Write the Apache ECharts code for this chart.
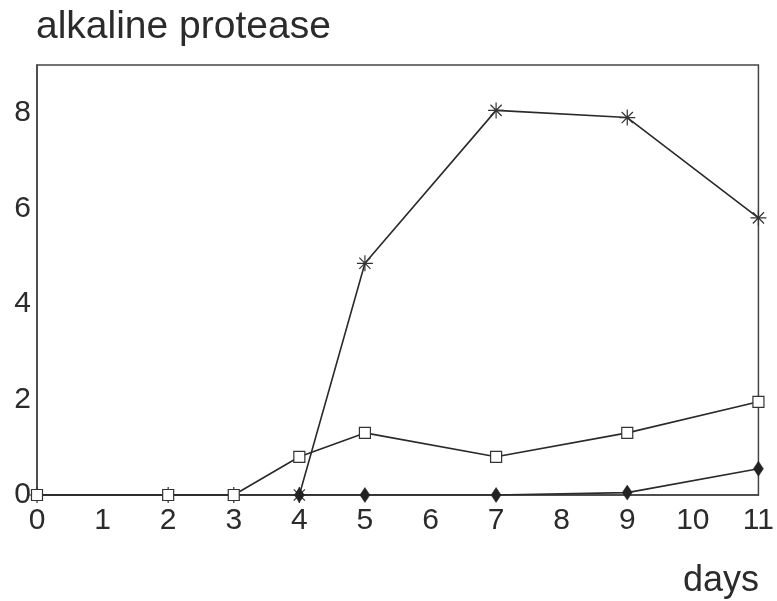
<!DOCTYPE html>
<html>
<head>
<meta charset="utf-8">
<script src="https://cdn.jsdelivr.net/npm/echarts@6/dist/echarts.min.js"></script>
<style>html,body{margin:0;padding:0;background:#fff;}#c{width:777px;height:601px;}</style>
</head>
<body>
<div id="c"></div>
<script>
var starDays = [0, 2, 3, 4, 5, 7, 9, 11];
var starValues = [0, 0, 0, 0, 4.85, 8.05, 7.9, 5.8];
var squareDays = [0, 2, 3, 4, 5, 7, 9, 11];
var squareValues = [0, 0, 0, 0.8, 1.3, 0.8, 1.3, 1.95];
var diamondDays = [4, 5, 7, 9, 11];
var diamondValues = [0, 0, 0, 0.05, 0.55];
var yTickLabels = [0, 2, 4, 6, 8];

function pairs(xs, ys) { return xs.map(function (x, i) { return [x, ys[i]]; }); }

var ink = '#2b2b2b';
var font = 'Liberation Sans';
var chart = echarts.init(document.getElementById('c'), null, { renderer: 'canvas' });
chart.setOption({
  animation: false,
  backgroundColor: '#fff',
  title: [
    { text: 'alkaline protease', left: 31, top: 3, textStyle: { fontFamily: font, fontWeight: 'normal', fontSize: 39, color: ink } },
    { text: 'days', right: 13, top: 558, textStyle: { fontFamily: font, fontWeight: 'normal', fontSize: 36, color: ink } }
  ],
  grid: { left: 37, right: 15, top: 65, bottom: 106, show: true, borderColor: '#444', borderWidth: 1.5, backgroundColor: 'transparent' },
  xAxis: {
    type: 'value', min: 0, max: 11, interval: 1,
    axisLine: { show: true, onZero: false, lineStyle: { color: '#444', width: 1.5 } },
    axisTick: { show: false },
    splitLine: { show: false },
    axisLabel: { margin: 11, fontFamily: font, fontSize: 30, color: ink }
  },
  yAxis: {
    type: 'value', min: 0, max: 9, interval: 1,
    axisLine: { show: true, lineStyle: { color: '#444', width: 1.5 } },
    axisTick: { show: false },
    splitLine: { show: false },
    axisLabel: {
      margin: 6, fontFamily: font, fontSize: 30, color: ink,
      formatter: function (v) { return yTickLabels.indexOf(v) >= 0 ? String(v) : ''; }
    }
  },
  series: [
    {
      type: 'line', data: pairs(starDays, starValues), z: 2,
      symbol: 'path://M0,-10L0,10M-10,0L10,0M-7,-7L7,7M-7,7L7,-7', symbolSize: 16,
      itemStyle: { color: 'transparent', borderColor: '#333', borderWidth: 1.2 },
      lineStyle: { color: '#2a2a2a', width: 1.6 }
    },
    {
      type: 'line', data: pairs(squareDays, squareValues), z: 3,
      symbol: 'rect', symbolSize: 11,
      itemStyle: { color: '#fff', borderColor: '#333', borderWidth: 1.2 },
      lineStyle: { color: '#2a2a2a', width: 1.6 }
    },
    {
      type: 'line', data: pairs(diamondDays, diamondValues), z: 4,
      symbol: 'diamond', symbolSize: [10, 15],
      itemStyle: { color: '#222', borderColor: '#222', borderWidth: 0.5 },
      lineStyle: { color: '#2a2a2a', width: 1.6 }
    }
  ]
});
</script>
</body>
</html>
